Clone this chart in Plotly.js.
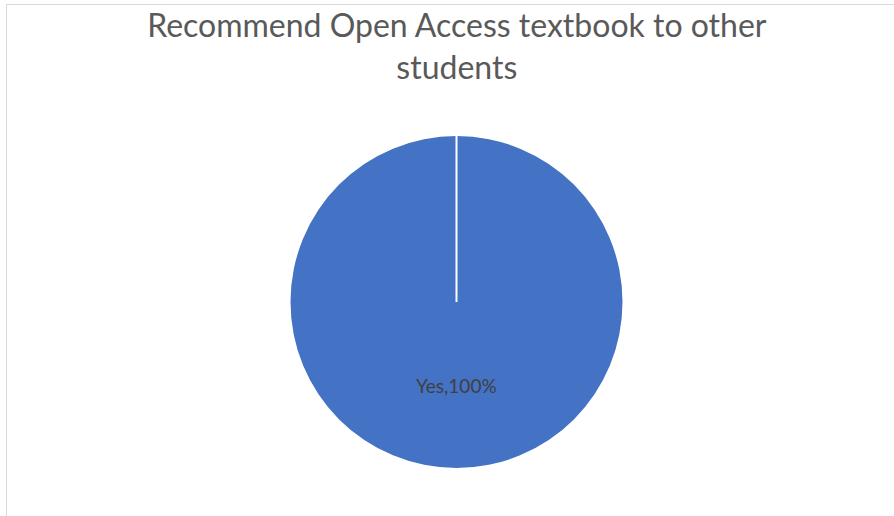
<!DOCTYPE html>
<html>
<head>
<meta charset="utf-8">
<script src="https://cdn.plot.ly/plotly-3.0.1.min.js"></script>
<style>
html,body{margin:0;padding:0;background:#fff;}
#frame{position:absolute;left:6px;top:4px;width:900px;height:520px;border-left:1px solid #d9d9d9;border-top:1px solid #d9d9d9;}
#chart{position:absolute;left:0;top:0;width:894px;height:516px;}
</style>
</head>
<body>
<div id="frame"></div>
<div id="chart"></div>
<script>
const chartTitle = 'Recommend Open Access textbook to other<br>students';
const categories = ['Yes'];
const values = [100];
const sliceColors = ['#4472C4'];

const W = 894, H = 516;
const cx = 456.5, cy = 302, r = 166;
const dom = {
  x: [(cx - r) / W, (cx + r) / W],
  y: [1 - (cy + r) / H, 1 - (cy - r) / H]
};

const total = values.reduce((a, b) => a + b, 0);
const labelText = categories[0] + ',' + Math.round(values[0] / total * 100) + '%';

const trace = {
  type: 'pie',
  labels: categories,
  values: values,
  sort: false,
  direction: 'clockwise',
  rotation: 0,
  marker: {colors: sliceColors, line: {color: '#ffffff', width: 0}},
  textinfo: 'none',
  hoverinfo: 'none',
  domain: dom,
  showlegend: false
};

const layout = {
  width: W, height: H,
  margin: {l: 0, r: 0, t: 0, b: 0},
  paper_bgcolor: 'rgba(0,0,0,0)',
  plot_bgcolor: 'rgba(0,0,0,0)',
  title: {
    text: chartTitle,
    font: {family: 'Lato, "Open Sans", sans-serif', size: 32, color: '#595959'},
    x: 0.511, xanchor: 'center',
    y: 1 - 37 / H, yanchor: 'middle', yref: 'paper'
  },
  showlegend: false,
  shapes: [{
    type: 'line', xref: 'paper', yref: 'paper',
    x0: (dom.x[0] + dom.x[1]) / 2, x1: (dom.x[0] + dom.x[1]) / 2,
    y0: (dom.y[0] + dom.y[1]) / 2, y1: dom.y[1],
    line: {color: '#ffffff', width: 2}
  }],
  annotations: [{
    xref: 'paper', yref: 'paper',
    x: (dom.x[0] + dom.x[1]) / 2,
    y: (dom.y[0] + dom.y[1]) / 2 - (dom.y[1] - dom.y[0]) * 0.25,
    xanchor: 'center', yanchor: 'middle',
    text: labelText, showarrow: false,
    font: {family: 'Lato, "Open Sans", sans-serif', size: 19, color: '#404040'}
  }]
};

Plotly.newPlot('chart', [trace], layout, {displayModeBar: false, staticPlot: true});
</script>
</body>
</html>
